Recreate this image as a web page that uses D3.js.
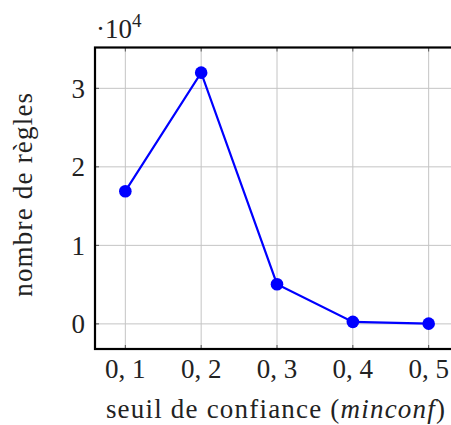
<!DOCTYPE html>
<html><head><meta charset="utf-8">
<script src="https://cdn.jsdelivr.net/npm/d3@7"></script>
<style>body{margin:0;background:#fff}svg{display:block}</style>
</head><body>
<script>
const xValues = [0.1, 0.2, 0.3, 0.4, 0.5];
const ruleCounts = [16900, 32000, 5050, 250, 30];
const xTickLabels = ["0, 1", "0, 2", "0, 3", "0, 4", "0, 5"];
const yTicks = [0, 10000, 20000, 30000];
const yTickLabels = ["0", "1", "2", "3"];

const W = 451, H = 425;
const svg = d3.select("body").append("svg").attr("width", W).attr("height", H);
const pL = 95, pR = 459, pT = 47.5, pB = 349;
const x = d3.scaleLinear().domain([0.06, 0.54]).range([pL, pR]);
const y = d3.scaleLinear().domain([-3200, 35200]).range([pB, pT]);
const font = "'Liberation Serif', 'DejaVu Serif', serif";
const FS = 27, LS = 1.2;

// grid
const g = svg.append("g");
g.selectAll(".vg").data(xValues).enter().append("line")
  .attr("x1", d => x(d)).attr("x2", d => x(d)).attr("y1", pT).attr("y2", pB)
  .attr("stroke", "#c4c4c4").attr("stroke-width", 1);
g.selectAll(".hg").data(yTicks).enter().append("line")
  .attr("x1", pL).attr("x2", pR).attr("y1", d => y(d)).attr("y2", d => y(d))
  .attr("stroke", "#c4c4c4").attr("stroke-width", 1);

// tick marks
g.selectAll(".xt").data(xValues).enter().append("line")
  .attr("x1", d => x(d)).attr("x2", d => x(d)).attr("y1", pB).attr("y2", pB - 4)
  .attr("stroke", "#555").attr("stroke-width", 1);
g.selectAll(".xt2").data(xValues).enter().append("line")
  .attr("x1", d => x(d)).attr("x2", d => x(d)).attr("y1", pT).attr("y2", pT + 4)
  .attr("stroke", "#555").attr("stroke-width", 1);
g.selectAll(".yt").data(yTicks).enter().append("line")
  .attr("x1", pL).attr("x2", pL + 4).attr("y1", d => y(d)).attr("y2", d => y(d))
  .attr("stroke", "#555").attr("stroke-width", 1);

// frame
svg.append("rect").attr("x", pL).attr("y", pT).attr("width", pR - pL).attr("height", pB - pT)
  .attr("fill", "none").attr("stroke", "#000").attr("stroke-width", 2.2);

// line + markers
const data = xValues.map((v, i) => ({x: v, y: ruleCounts[i]}));
svg.append("path").datum(data)
  .attr("d", d3.line().x(d => x(d.x)).y(d => y(d.y)))
  .attr("fill", "none").attr("stroke", "#0000ff").attr("stroke-width", 2.2);
svg.selectAll(".pt").data(data).enter().append("circle")
  .attr("cx", d => x(d.x)).attr("cy", d => y(d.y)).attr("r", 6.3).attr("fill", "#0000ff");

// tick labels
svg.selectAll(".xl").data(xValues).enter().append("text")
  .attr("x", d => x(d)).attr("y", 378).attr("text-anchor", "middle")
  .attr("font-family", font).attr("font-size", FS).attr("fill", "#222")
  .text((d, i) => xTickLabels[i]);
svg.selectAll(".yl").data(yTicks).enter().append("text")
  .attr("x", 85).attr("y", d => y(d) + 9.5).attr("text-anchor", "end")
  .attr("font-family", font).attr("font-size", FS).attr("fill", "#222")
  .text((d, i) => yTickLabels[i]);

// multiplier
const m = svg.append("text").attr("x", 96).attr("y", 38)
  .attr("font-family", font).attr("font-size", FS).attr("fill", "#222");
m.append("tspan").text("·10");
m.append("tspan").attr("dy", -11).attr("font-size", 19).text("4");

// axis labels
const xl = svg.append("text").attr("x", (pL + pR) / 2 - 1).attr("y", 418).attr("text-anchor", "middle")
  .attr("font-family", font).attr("font-size", FS).attr("letter-spacing", LS).attr("fill", "#222");
xl.append("tspan").text("seuil de confiance (");
xl.append("tspan").attr("font-style", "italic").text("minconf");
xl.append("tspan").text(")");

svg.append("text").attr("transform", `translate(32,${(pT + pB) / 2 - 4}) rotate(-90)`)
  .attr("text-anchor", "middle").attr("font-family", font).attr("font-size", FS).attr("letter-spacing", LS).attr("fill", "#222")
  .text("nombre de règles");
</script>
</body></html>
